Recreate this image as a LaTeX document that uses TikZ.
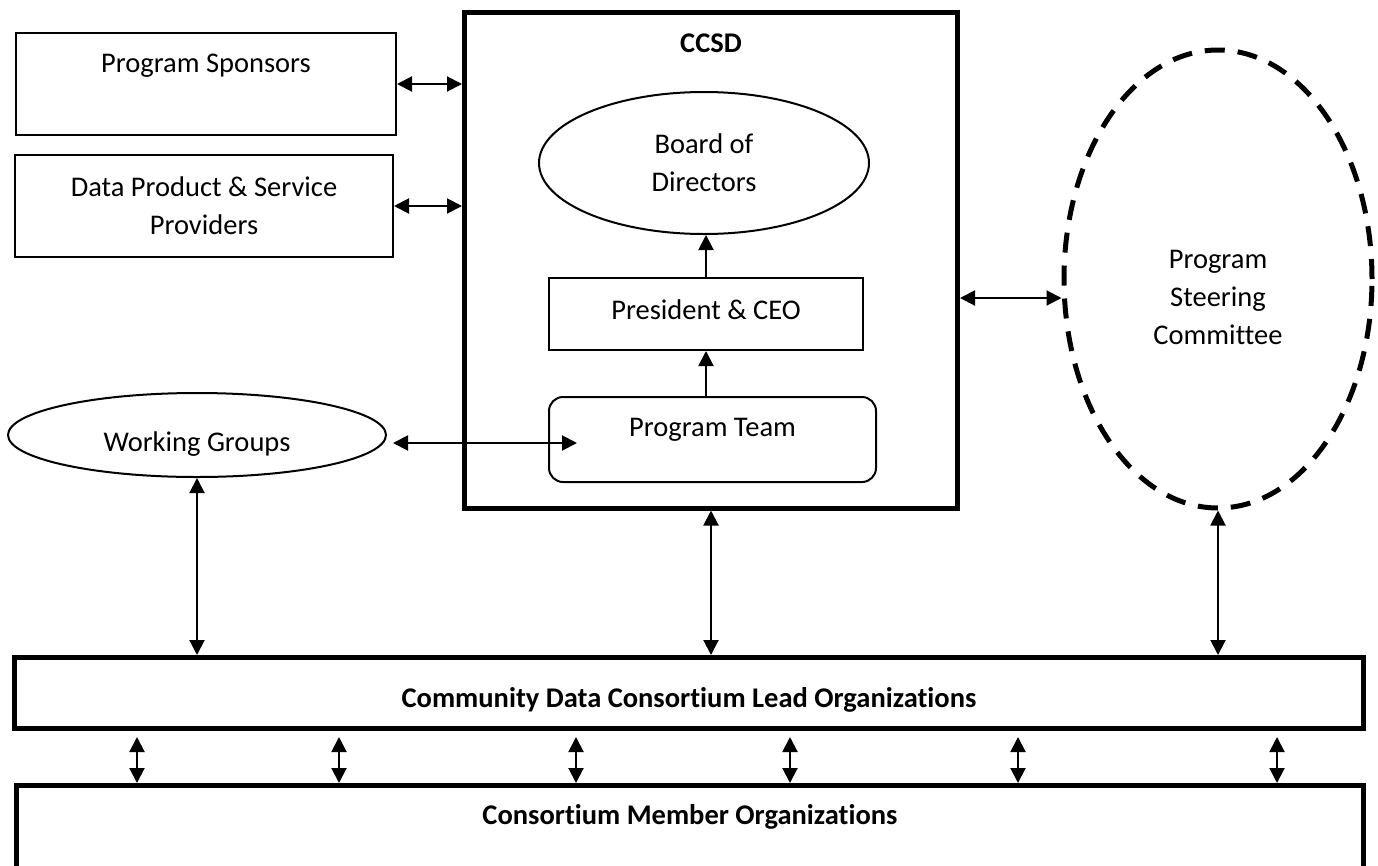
\documentclass[tikz,border=0pt]{standalone}
\usepackage{fontspec}
\setmainfont{Carlito}[Ligatures=NoCommon]
\usetikzlibrary{arrows.meta,shapes.geometric}
\begin{document}
\begin{tikzpicture}[x=1pt,y=-1pt,
  >={Triangle[length=15pt,width=15pt]},
  every node/.style={font=\fontsize{28.5}{38}\selectfont},
  thinbox/.style={draw, line width=2pt, rectangle, inner sep=0pt, align=center},
  heavybox/.style={draw, line width=5pt, rectangle, inner sep=0pt},
  oval/.style={draw, line width=2pt, ellipse, inner sep=0pt, align=center},
  title/.style={anchor=center, font=\fontsize{28.5}{38}\selectfont\bfseries},
  caption/.style={anchor=center, align=center},
  link/.style={line width=2pt}]

  \useasboundingbox (0,0) rectangle (1378,865);
  \clip (0,0) rectangle (1378,865);

  % outside parties on the left
  \node[thinbox, minimum width=380pt, minimum height=102pt,
        label={[caption, yshift=-34pt]north:Program Sponsors}] (sp) at (206,84) {};
  \node[thinbox, minimum width=378pt, minimum height=102pt] (dp) at (204,206)
       {Data Product \& Service\\Providers};

  % CCSD and its internal structure
  \node[heavybox, minimum width=493pt, minimum height=495.5pt,
        label={[title, yshift=-33pt]north:CCSD}] (ccsd) at (711,260.25) {};
  \node[oval, minimum width=330pt, minimum height=142pt] (board) at (704,163)
       {Board of\\Directors};
  \node[thinbox, minimum width=314pt, minimum height=72pt,
        label={[caption, yshift=-33pt]north:President \& CEO}] (pres) at (706,314) {};
  \node[thinbox, rounded corners=14pt, minimum width=327pt, minimum height=85pt,
        label={[caption, yshift=-34pt]north:Program Team}] (pt) at (712.5,439.5) {};

  % working groups and steering committee
  \node[oval, minimum width=378pt, minimum height=84pt,
        label={[caption, yshift=-52pt]north:Working Groups}] (wg) at (197,435) {};
  \node[draw, ellipse, line width=5pt, dash pattern=on 20pt off 13pt, inner sep=0pt,
        minimum width=308pt, minimum height=458pt,
        label={[caption, yshift=-250pt]north:Program\\Steering\\Committee}] (psc) at (1218,279) {};

  % consortium layers
  \node[heavybox, minimum width=1349pt, minimum height=71pt,
        label={[title, yshift=-45pt]north:Community Data Consortium Lead Organizations}] (lead) at (689,693) {};
  \node[heavybox, minimum width=1347pt, minimum height=170pt,
        label={[title, yshift=-34pt]north:Consortium Member Organizations}] (member) at (690,870.5) {};

  % connectors
  \draw[link, <->] (sp.east) -- (sp.east -| ccsd.west);
  \draw[link, <->] (dp.east) -- (dp.east -| ccsd.west);
  \draw[link, ->] (pres.north) -- (board.south -| pres.north);
  \draw[link, ->] (pt.north -| pres.north) -- (pres.south);
  \coordinate (wgr) at (393,443);
  \coordinate (ptin) at (577,443);
  \draw[link, <->] (wgr) -- (ptin);
  \coordinate (pscy) at (0,298);
  \draw[link, <->] (ccsd.east |- pscy) -- (psc.west |- pscy);
  \draw[link, <->] (wg.south) -- (lead.north -| wg.south);
  \draw[link, <->] (ccsd.south) -- (lead.north -| ccsd.south);
  \draw[link, <->] (psc.south) -- (lead.north -| psc.south);
  \foreach \x in {137,339,576,790,1018,1277} {
    \coordinate (lo\x) at (\x,737);
    \draw[link, <->] (lo\x) -- (member.north -| lo\x);
  }
\end{tikzpicture}
\end{document}
